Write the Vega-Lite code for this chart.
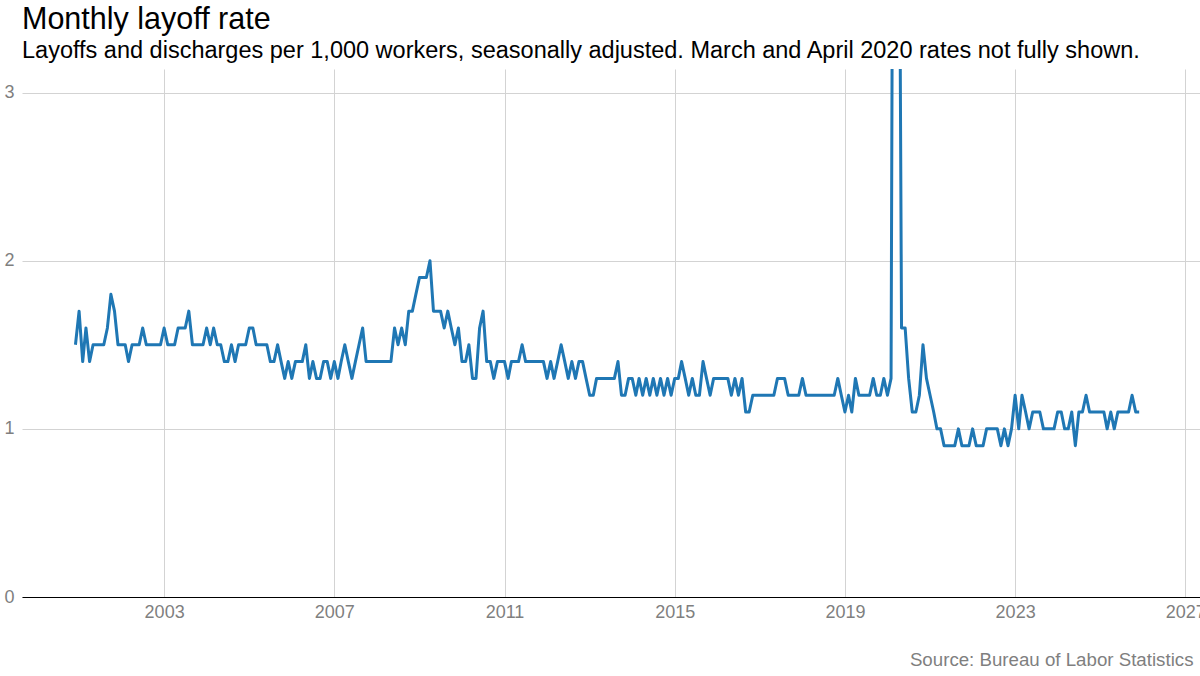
{
  "$schema": "https://vega.github.io/schema/vega-lite/v6.json",
  "width": 1178,
  "height": 528,
  "autosize": {"type": "none"},
  "padding": {"left": 22, "top": 69, "right": 0, "bottom": 79},
  "background": "white",
  "title": {
    "text": "Monthly layoff rate",
    "subtitle": "Layoffs and discharges per 1,000 workers, seasonally adjusted. March and April 2020 rates not fully shown.",
    "anchor": "start",
    "frame": "group",
    "font": "Liberation Sans",
    "fontSize": 30.5,
    "fontWeight": "normal",
    "color": "#000000",
    "subtitleFont": "Liberation Sans",
    "subtitleFontSize": 23.5,
    "subtitleColor": "#000000",
    "subtitlePadding": 3,
    "offset": 7
  },
  "config": {
    "view": {"stroke": null},
    "axis": {
      "labelFont": "Liberation Sans",
      "titleFont": "Liberation Sans",
      "labelColor": "#7f7f7f",
      "labelFontSize": 18,
      "gridColor": "#d3d3d3",
      "gridWidth": 1,
      "ticks": false
    }
  },
  "data": {
    "values": [
      {"date":"2000-12-01","rate":1.5},
      {"date":"2001-01-01","rate":1.7},{"date":"2001-02-01","rate":1.4},{"date":"2001-03-01","rate":1.6},{"date":"2001-04-01","rate":1.4},{"date":"2001-05-01","rate":1.5},{"date":"2001-06-01","rate":1.5},{"date":"2001-07-01","rate":1.5},{"date":"2001-08-01","rate":1.5},{"date":"2001-09-01","rate":1.6},{"date":"2001-10-01","rate":1.8},{"date":"2001-11-01","rate":1.7},{"date":"2001-12-01","rate":1.5},
      {"date":"2002-01-01","rate":1.5},{"date":"2002-02-01","rate":1.5},{"date":"2002-03-01","rate":1.4},{"date":"2002-04-01","rate":1.5},{"date":"2002-05-01","rate":1.5},{"date":"2002-06-01","rate":1.5},{"date":"2002-07-01","rate":1.6},{"date":"2002-08-01","rate":1.5},{"date":"2002-09-01","rate":1.5},{"date":"2002-10-01","rate":1.5},{"date":"2002-11-01","rate":1.5},{"date":"2002-12-01","rate":1.5},
      {"date":"2003-01-01","rate":1.6},{"date":"2003-02-01","rate":1.5},{"date":"2003-03-01","rate":1.5},{"date":"2003-04-01","rate":1.5},{"date":"2003-05-01","rate":1.6},{"date":"2003-06-01","rate":1.6},{"date":"2003-07-01","rate":1.6},{"date":"2003-08-01","rate":1.7},{"date":"2003-09-01","rate":1.5},{"date":"2003-10-01","rate":1.5},{"date":"2003-11-01","rate":1.5},{"date":"2003-12-01","rate":1.5},
      {"date":"2004-01-01","rate":1.6},{"date":"2004-02-01","rate":1.5},{"date":"2004-03-01","rate":1.6},{"date":"2004-04-01","rate":1.5},{"date":"2004-05-01","rate":1.5},{"date":"2004-06-01","rate":1.4},{"date":"2004-07-01","rate":1.4},{"date":"2004-08-01","rate":1.5},{"date":"2004-09-01","rate":1.4},{"date":"2004-10-01","rate":1.5},{"date":"2004-11-01","rate":1.5},{"date":"2004-12-01","rate":1.5},
      {"date":"2005-01-01","rate":1.6},{"date":"2005-02-01","rate":1.6},{"date":"2005-03-01","rate":1.5},{"date":"2005-04-01","rate":1.5},{"date":"2005-05-01","rate":1.5},{"date":"2005-06-01","rate":1.5},{"date":"2005-07-01","rate":1.4},{"date":"2005-08-01","rate":1.4},{"date":"2005-09-01","rate":1.5},{"date":"2005-10-01","rate":1.4},{"date":"2005-11-01","rate":1.3},{"date":"2005-12-01","rate":1.4},
      {"date":"2006-01-01","rate":1.3},{"date":"2006-02-01","rate":1.4},{"date":"2006-03-01","rate":1.4},{"date":"2006-04-01","rate":1.4},{"date":"2006-05-01","rate":1.5},{"date":"2006-06-01","rate":1.3},{"date":"2006-07-01","rate":1.4},{"date":"2006-08-01","rate":1.3},{"date":"2006-09-01","rate":1.3},{"date":"2006-10-01","rate":1.4},{"date":"2006-11-01","rate":1.4},{"date":"2006-12-01","rate":1.3},
      {"date":"2007-01-01","rate":1.4},{"date":"2007-02-01","rate":1.3},{"date":"2007-03-01","rate":1.4},{"date":"2007-04-01","rate":1.5},{"date":"2007-05-01","rate":1.4},{"date":"2007-06-01","rate":1.3},{"date":"2007-07-01","rate":1.4},{"date":"2007-08-01","rate":1.5},{"date":"2007-09-01","rate":1.6},{"date":"2007-10-01","rate":1.4},{"date":"2007-11-01","rate":1.4},{"date":"2007-12-01","rate":1.4},
      {"date":"2008-01-01","rate":1.4},{"date":"2008-02-01","rate":1.4},{"date":"2008-03-01","rate":1.4},{"date":"2008-04-01","rate":1.4},{"date":"2008-05-01","rate":1.4},{"date":"2008-06-01","rate":1.6},{"date":"2008-07-01","rate":1.5},{"date":"2008-08-01","rate":1.6},{"date":"2008-09-01","rate":1.5},{"date":"2008-10-01","rate":1.7},{"date":"2008-11-01","rate":1.7},{"date":"2008-12-01","rate":1.8},
      {"date":"2009-01-01","rate":1.9},{"date":"2009-02-01","rate":1.9},{"date":"2009-03-01","rate":1.9},{"date":"2009-04-01","rate":2.0},{"date":"2009-05-01","rate":1.7},{"date":"2009-06-01","rate":1.7},{"date":"2009-07-01","rate":1.7},{"date":"2009-08-01","rate":1.6},{"date":"2009-09-01","rate":1.7},{"date":"2009-10-01","rate":1.6},{"date":"2009-11-01","rate":1.5},{"date":"2009-12-01","rate":1.6},
      {"date":"2010-01-01","rate":1.4},{"date":"2010-02-01","rate":1.4},{"date":"2010-03-01","rate":1.5},{"date":"2010-04-01","rate":1.3},{"date":"2010-05-01","rate":1.3},{"date":"2010-06-01","rate":1.6},{"date":"2010-07-01","rate":1.7},{"date":"2010-08-01","rate":1.4},{"date":"2010-09-01","rate":1.4},{"date":"2010-10-01","rate":1.3},{"date":"2010-11-01","rate":1.4},{"date":"2010-12-01","rate":1.4},
      {"date":"2011-01-01","rate":1.4},{"date":"2011-02-01","rate":1.3},{"date":"2011-03-01","rate":1.4},{"date":"2011-04-01","rate":1.4},{"date":"2011-05-01","rate":1.4},{"date":"2011-06-01","rate":1.5},{"date":"2011-07-01","rate":1.4},{"date":"2011-08-01","rate":1.4},{"date":"2011-09-01","rate":1.4},{"date":"2011-10-01","rate":1.4},{"date":"2011-11-01","rate":1.4},{"date":"2011-12-01","rate":1.4},
      {"date":"2012-01-01","rate":1.3},{"date":"2012-02-01","rate":1.4},{"date":"2012-03-01","rate":1.3},{"date":"2012-04-01","rate":1.4},{"date":"2012-05-01","rate":1.5},{"date":"2012-06-01","rate":1.4},{"date":"2012-07-01","rate":1.3},{"date":"2012-08-01","rate":1.4},{"date":"2012-09-01","rate":1.3},{"date":"2012-10-01","rate":1.4},{"date":"2012-11-01","rate":1.4},{"date":"2012-12-01","rate":1.3},
      {"date":"2013-01-01","rate":1.2},{"date":"2013-02-01","rate":1.2},{"date":"2013-03-01","rate":1.3},{"date":"2013-04-01","rate":1.3},{"date":"2013-05-01","rate":1.3},{"date":"2013-06-01","rate":1.3},{"date":"2013-07-01","rate":1.3},{"date":"2013-08-01","rate":1.3},{"date":"2013-09-01","rate":1.4},{"date":"2013-10-01","rate":1.2},{"date":"2013-11-01","rate":1.2},{"date":"2013-12-01","rate":1.3},
      {"date":"2014-01-01","rate":1.3},{"date":"2014-02-01","rate":1.2},{"date":"2014-03-01","rate":1.3},{"date":"2014-04-01","rate":1.2},{"date":"2014-05-01","rate":1.3},{"date":"2014-06-01","rate":1.2},{"date":"2014-07-01","rate":1.3},{"date":"2014-08-01","rate":1.2},{"date":"2014-09-01","rate":1.3},{"date":"2014-10-01","rate":1.2},{"date":"2014-11-01","rate":1.3},{"date":"2014-12-01","rate":1.2},
      {"date":"2015-01-01","rate":1.3},{"date":"2015-02-01","rate":1.3},{"date":"2015-03-01","rate":1.4},{"date":"2015-04-01","rate":1.3},{"date":"2015-05-01","rate":1.2},{"date":"2015-06-01","rate":1.3},{"date":"2015-07-01","rate":1.2},{"date":"2015-08-01","rate":1.2},{"date":"2015-09-01","rate":1.4},{"date":"2015-10-01","rate":1.3},{"date":"2015-11-01","rate":1.2},{"date":"2015-12-01","rate":1.3},
      {"date":"2016-01-01","rate":1.3},{"date":"2016-02-01","rate":1.3},{"date":"2016-03-01","rate":1.3},{"date":"2016-04-01","rate":1.3},{"date":"2016-05-01","rate":1.2},{"date":"2016-06-01","rate":1.3},{"date":"2016-07-01","rate":1.2},{"date":"2016-08-01","rate":1.3},{"date":"2016-09-01","rate":1.1},{"date":"2016-10-01","rate":1.1},{"date":"2016-11-01","rate":1.2},{"date":"2016-12-01","rate":1.2},
      {"date":"2017-01-01","rate":1.2},{"date":"2017-02-01","rate":1.2},{"date":"2017-03-01","rate":1.2},{"date":"2017-04-01","rate":1.2},{"date":"2017-05-01","rate":1.2},{"date":"2017-06-01","rate":1.3},{"date":"2017-07-01","rate":1.3},{"date":"2017-08-01","rate":1.3},{"date":"2017-09-01","rate":1.2},{"date":"2017-10-01","rate":1.2},{"date":"2017-11-01","rate":1.2},{"date":"2017-12-01","rate":1.2},
      {"date":"2018-01-01","rate":1.3},{"date":"2018-02-01","rate":1.2},{"date":"2018-03-01","rate":1.2},{"date":"2018-04-01","rate":1.2},{"date":"2018-05-01","rate":1.2},{"date":"2018-06-01","rate":1.2},{"date":"2018-07-01","rate":1.2},{"date":"2018-08-01","rate":1.2},{"date":"2018-09-01","rate":1.2},{"date":"2018-10-01","rate":1.2},{"date":"2018-11-01","rate":1.3},{"date":"2018-12-01","rate":1.2},
      {"date":"2019-01-01","rate":1.1},{"date":"2019-02-01","rate":1.2},{"date":"2019-03-01","rate":1.1},{"date":"2019-04-01","rate":1.3},{"date":"2019-05-01","rate":1.2},{"date":"2019-06-01","rate":1.2},{"date":"2019-07-01","rate":1.2},{"date":"2019-08-01","rate":1.2},{"date":"2019-09-01","rate":1.3},{"date":"2019-10-01","rate":1.2},{"date":"2019-11-01","rate":1.2},{"date":"2019-12-01","rate":1.3},
      {"date":"2020-01-01","rate":1.2},{"date":"2020-02-01","rate":1.3},{"date":"2020-03-01","rate":7.5},{"date":"2020-04-01","rate":5.9},{"date":"2020-05-01","rate":1.6},{"date":"2020-06-01","rate":1.6},{"date":"2020-07-01","rate":1.3},{"date":"2020-08-01","rate":1.1},{"date":"2020-09-01","rate":1.1},{"date":"2020-10-01","rate":1.2},{"date":"2020-11-01","rate":1.5},{"date":"2020-12-01","rate":1.3},
      {"date":"2021-01-01","rate":1.2},{"date":"2021-02-01","rate":1.1},{"date":"2021-03-01","rate":1.0},{"date":"2021-04-01","rate":1.0},{"date":"2021-05-01","rate":0.9},{"date":"2021-06-01","rate":0.9},{"date":"2021-07-01","rate":0.9},{"date":"2021-08-01","rate":0.9},{"date":"2021-09-01","rate":1.0},{"date":"2021-10-01","rate":0.9},{"date":"2021-11-01","rate":0.9},{"date":"2021-12-01","rate":0.9},
      {"date":"2022-01-01","rate":1.0},{"date":"2022-02-01","rate":0.9},{"date":"2022-03-01","rate":0.9},{"date":"2022-04-01","rate":0.9},{"date":"2022-05-01","rate":1.0},{"date":"2022-06-01","rate":1.0},{"date":"2022-07-01","rate":1.0},{"date":"2022-08-01","rate":1.0},{"date":"2022-09-01","rate":0.9},{"date":"2022-10-01","rate":1.0},{"date":"2022-11-01","rate":0.9},{"date":"2022-12-01","rate":1.0},
      {"date":"2023-01-01","rate":1.2},{"date":"2023-02-01","rate":1.0},{"date":"2023-03-01","rate":1.2},{"date":"2023-04-01","rate":1.1},{"date":"2023-05-01","rate":1.0},{"date":"2023-06-01","rate":1.1},{"date":"2023-07-01","rate":1.1},{"date":"2023-08-01","rate":1.1},{"date":"2023-09-01","rate":1.0},{"date":"2023-10-01","rate":1.0},{"date":"2023-11-01","rate":1.0},{"date":"2023-12-01","rate":1.0},
      {"date":"2024-01-01","rate":1.1},{"date":"2024-02-01","rate":1.1},{"date":"2024-03-01","rate":1.0},{"date":"2024-04-01","rate":1.0},{"date":"2024-05-01","rate":1.1},{"date":"2024-06-01","rate":0.9},{"date":"2024-07-01","rate":1.1},{"date":"2024-08-01","rate":1.1},{"date":"2024-09-01","rate":1.2},{"date":"2024-10-01","rate":1.1},{"date":"2024-11-01","rate":1.1},{"date":"2024-12-01","rate":1.1},
      {"date":"2025-01-01","rate":1.1},{"date":"2025-02-01","rate":1.1},{"date":"2025-03-01","rate":1.0},{"date":"2025-04-01","rate":1.1},{"date":"2025-05-01","rate":1.0},{"date":"2025-06-01","rate":1.1},{"date":"2025-07-01","rate":1.1},{"date":"2025-08-01","rate":1.1},{"date":"2025-09-01","rate":1.1},{"date":"2025-10-01","rate":1.2},{"date":"2025-11-01","rate":1.1},{"date":"2025-12-01","rate":1.1}
    ]
  },
  "mark": {"type": "line", "color": "#1f77b4", "strokeWidth": 3, "clip": true, "strokeJoin": "round"},
  "encoding": {
    "x": {
      "field": "date",
      "type": "temporal",
      "scale": {
        "type": "utc",
        "domain": [
          {"year": 1999, "month": 8, "date": 30, "utc": true},
          {"year": 2027, "month": 5, "date": 7, "utc": true}
        ]
      },
      "axis": {
        "values": [
          {"year": 2003, "month": 1, "date": 1, "utc": true},
          {"year": 2007, "month": 1, "date": 1, "utc": true},
          {"year": 2011, "month": 1, "date": 1, "utc": true},
          {"year": 2015, "month": 1, "date": 1, "utc": true},
          {"year": 2019, "month": 1, "date": 1, "utc": true},
          {"year": 2023, "month": 1, "date": 1, "utc": true},
          {"year": 2027, "month": 1, "date": 1, "utc": true}
        ],
        "format": "%Y",
        "grid": true,
        "domain": true,
        "domainColor": "#000000",
        "domainWidth": 1,
        "labelPadding": 6,
        "labelBound": false,
        "labelOverlap": false,
        "labelFlush": false,
        "title": "Source: Bureau of Labor Statistics",
        "titleAnchor": "end",
        "titleAlign": "right",
        "titleX": 1171,
        "titleFontSize": 18.7,
        "titleFontWeight": "normal",
        "titleColor": "#7f7f7f",
        "titlePadding": 29
      }
    },
    "y": {
      "field": "rate",
      "type": "quantitative",
      "scale": {"domain": [0, 3.14], "nice": false, "zero": true},
      "axis": {
        "values": [0, 1, 2, 3],
        "format": "d",
        "grid": true,
        "domain": false,
        "labelPadding": 8,
        "title": null
      }
    }
  }
}
